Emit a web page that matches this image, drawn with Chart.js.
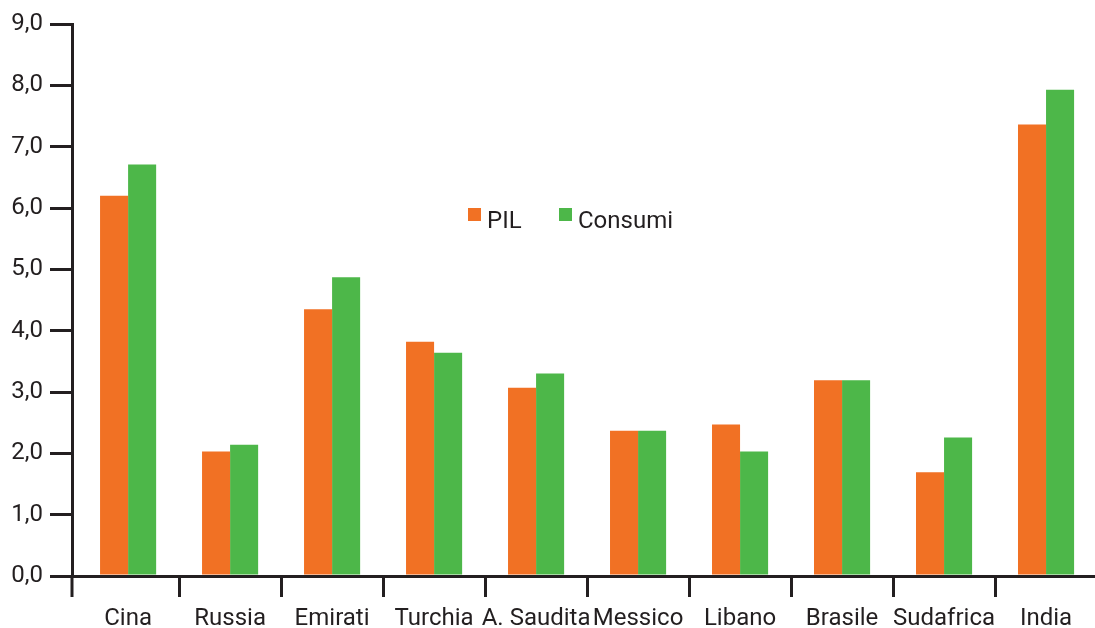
<!DOCTYPE html>
<html>
<head>
<meta charset="utf-8">
<script src="https://cdn.jsdelivr.net/npm/chart.js@4/dist/chart.umd.min.js"></script>
<style>
  html, body { margin: 0; padding: 0; background: #ffffff; }
  #wrap { width: 1095px; height: 628px; }
</style>
</head>
<body>
<div id="wrap"><canvas id="c" width="1095" height="628"></canvas></div>
<script>
// Paesi e tassi di crescita (%)
const categories = ['Cina', 'Russia', 'Emirati', 'Turchia', 'A. Saudita', 'Messico', 'Libano', 'Brasile', 'Sudafrica', 'India'];
const pil      = [6.20, 2.03, 4.35, 3.82, 3.07, 2.37, 2.47, 3.19, 1.69, 7.36];
const consumi  = [6.71, 2.14, 4.87, 3.64, 3.30, 2.37, 2.03, 3.19, 2.26, 7.93];
const yTicks   = [0, 1, 2, 3, 4, 5, 6, 7, 8, 9];

const ORANGE = '#f17124';
const GREEN = '#4db749';
const INK = '#231f20';
const FONT = 'Roboto, "Open Sans", sans-serif';

// Legenda disegnata all'interno dell'area del grafico
const innerLegend = {
  id: 'innerLegend',
  afterDraw(chart) {
    const ctx = chart.ctx;
    ctx.save();
    ctx.font = '24px ' + FONT;
    ctx.textBaseline = 'alphabetic';
    ctx.textAlign = 'left';
    const items = chart.data.datasets.map(d => ({ text: d.label, color: d.backgroundColor }));
    const pos = [{ x: 468 }, { x: 559 }];
    items.forEach((it, i) => {
      ctx.fillStyle = it.color;
      ctx.fillRect(pos[i].x, 208, 13, 13);
      ctx.fillStyle = INK;
      ctx.fillText(it.text, pos[i].x + 19, 228);
    });
    ctx.restore();
  }
};

// L'asse verticale prosegue sotto l'asse orizzontale come prima tacca
const axisFoot = {
  id: 'axisFoot',
  afterDraw(chart) {
    const ctx = chart.ctx;
    const x = chart.scales.y.right;
    const b = chart.chartArea.bottom;
    ctx.save();
    ctx.strokeStyle = INK;
    ctx.lineWidth = 3;
    ctx.beginPath();
    ctx.moveTo(x, b);
    ctx.lineTo(x, b + 21);
    ctx.stroke();
    ctx.restore();
  }
};

new Chart(document.getElementById('c'), {
  type: 'bar',
  data: {
    labels: categories,
    datasets: [
      { label: 'PIL', data: pil, backgroundColor: ORANGE, borderWidth: 0 },
      { label: 'Consumi', data: consumi, backgroundColor: GREEN, borderWidth: 0 }
    ]
  },
  options: {
    responsive: false,
    devicePixelRatio: 1,
    animation: false,
    layout: { padding: { top: 24, right: 0, left: 0, bottom: 0 } },
    datasets: { bar: { categoryPercentage: 0.55, barPercentage: 1.0 } },
    plugins: {
      legend: { display: false },
      tooltip: { enabled: false }
    },
    scales: {
      x: {
        offset: true,
        grid: {
          offset: true,
          drawOnChartArea: false,
          drawTicks: true,
          tickLength: 21,
          color: c => (c.index === 0 ? 'rgba(0,0,0,0)' : INK),
          lineWidth: 3
        },
        border: { display: true, color: INK, width: 3 },
        ticks: {
          color: INK,
          font: { family: FONT, size: 24 },
          padding: 8,
          maxRotation: 0,
          autoSkip: false
        },
        afterFit(scale) { scale.height = 52; },
        afterUpdate(scale) {
          // piccolo margine tra l'asse verticale e la prima categoria
          scale._startValue = -0.55;
          scale._valueRange = 10.03;
        }
      },
      y: {
        min: yTicks[0],
        max: yTicks[yTicks.length - 1],
        afterBuildTicks(scale) { scale.ticks = yTicks.map(v => ({ value: v })); },
        grid: {
          drawOnChartArea: false,
          drawTicks: true,
          tickLength: 22,
          color: INK,
          lineWidth: 3
        },
        border: { display: true, color: INK, width: 3 },
        ticks: {
          color: INK,
          font: { family: FONT, size: 24 },
          padding: 7,
          callback: v => Number(v).toFixed(1).replace('.', ',')
        },
        afterFit(scale) { scale.width = 72; }
      }
    }
  },
  plugins: [innerLegend, axisFoot]
});
</script>
</body>
</html>
